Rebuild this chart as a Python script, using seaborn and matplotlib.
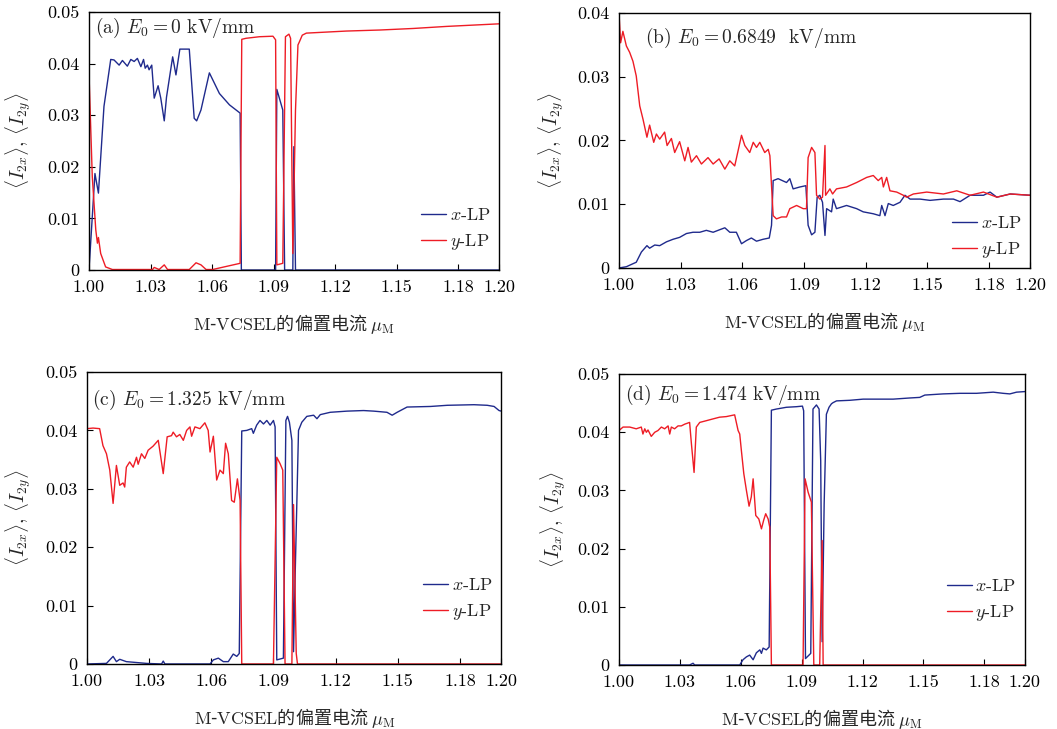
import matplotlib
matplotlib.use("Agg")
import matplotlib.pyplot as plt
import seaborn as sns

# ---- data ----
x_ticks = [1.00, 1.03, 1.06, 1.09, 1.12, 1.15, 1.18, 1.20]
x_tick_labels = ["1.00", "1.03", "1.06", "1.09", "1.12", "1.15", "1.18", "1.20"]

# (a) E0 = 0 kV/mm
a_x_lp_x = [1.0000, 1.0029, 1.0046, 1.0073, 1.0106, 1.0122, 1.0147, 1.0163, 1.0187, 1.0204,
            1.0220, 1.0236, 1.0253, 1.0266, 1.0274, 1.0285, 1.0293, 1.0306, 1.0318, 1.0337,
            1.0350, 1.0367, 1.0378, 1.0408, 1.0424, 1.0443, 1.0489, 1.0513, 1.0525, 1.0546,
            1.0587, 1.0636, 1.0685, 1.0737, 1.0743, 1.0910, 1.0916, 1.0945, 1.0954, 1.0994,
            1.0999, 1.1007, 1.2000]
a_x_lp_y = [0.0, 0.0187, 0.0149, 0.0317, 0.0408, 0.0407, 0.0397, 0.0406, 0.0395, 0.0408,
            0.0404, 0.0410, 0.0394, 0.0408, 0.0391, 0.0397, 0.0388, 0.0397, 0.0333, 0.0357,
            0.0333, 0.0289, 0.0335, 0.0413, 0.0378, 0.0428, 0.0428, 0.0294, 0.0289, 0.0310,
            0.0382, 0.0342, 0.0320, 0.0304, 0.0, 0.0, 0.0350, 0.0310, 0.0, 0.0,
            0.0239, 0.0, 0.0]
a_y_lp_x = [1.0000, 1.0016, 1.0033, 1.0041, 1.0046, 1.0057, 1.0081, 1.0114, 1.0310, 1.0318,
            1.0342, 1.0367, 1.0383, 1.0489, 1.0522, 1.0546, 1.0571, 1.0603, 1.0737, 1.0745,
            1.0766, 1.0831, 1.0897, 1.0910, 1.0916, 1.0945, 1.0958, 1.0975, 1.0983, 1.0994,
            1.1007, 1.1019, 1.1027, 1.1040, 1.1060, 1.1255, 1.1418, 1.1581, 1.1744, 1.2000]
a_y_lp_y = [0.0380, 0.0181, 0.0078, 0.0052, 0.0063, 0.0032, 0.0006, 0.0001, 0.0001, 0.0005,
            0.0001, 0.0010, 0.0001, 0.0001, 0.0014, 0.0010, 0.0001, 0.0001, 0.0013, 0.0447,
            0.0449, 0.0452, 0.0453, 0.0446, 0.0010, 0.0013, 0.0452, 0.0457, 0.0449, 0.0032,
            0.0310, 0.0436, 0.0443, 0.0455, 0.0459, 0.0463, 0.0465, 0.0468, 0.0472, 0.0477]

# (b) E0 = 0.6849 kV/mm
b_x_lp_x = [1.0000, 1.0036, 1.0084, 1.0109, 1.0136, 1.0149, 1.0174, 1.0198, 1.0231, 1.0263,
            1.0295, 1.0328, 1.0360, 1.0393, 1.0425, 1.0458, 1.0490, 1.0515, 1.0539, 1.0571,
            1.0596, 1.0620, 1.0644, 1.0669, 1.0701, 1.0731, 1.0742, 1.0750, 1.0774, 1.0815,
            1.0831, 1.0847, 1.0880, 1.0909, 1.0920, 1.0937, 1.0953, 1.0964, 1.0977, 1.0990,
            1.1002, 1.1010, 1.1034, 1.1042, 1.1058, 1.1107, 1.1156, 1.1188, 1.1237, 1.1269,
            1.1278, 1.1294, 1.1310, 1.1334, 1.1367, 1.1391, 1.1416, 1.1464, 1.1513, 1.1578,
            1.1627, 1.1659, 1.1708, 1.1773, 1.1805, 1.1838, 1.1903, 1.2000]
b_x_lp_y = [0.0, 0.0002, 0.0009, 0.0025, 0.0035, 0.0031, 0.0036, 0.0035, 0.0041, 0.0045,
            0.0048, 0.0054, 0.0056, 0.0056, 0.0059, 0.0056, 0.0060, 0.0063, 0.0056, 0.0056,
            0.0038, 0.0043, 0.0047, 0.0042, 0.0045, 0.0047, 0.0067, 0.0137, 0.0140, 0.0134,
            0.0140, 0.0124, 0.0127, 0.0129, 0.0067, 0.0052, 0.0056, 0.0111, 0.0114, 0.0103,
            0.0051, 0.0093, 0.0088, 0.0108, 0.0093, 0.0098, 0.0093, 0.0088, 0.0085, 0.0082,
            0.0098, 0.0082, 0.0101, 0.0098, 0.0103, 0.0114, 0.0108, 0.0108, 0.0106, 0.0108,
            0.0108, 0.0104, 0.0114, 0.0114, 0.0119, 0.0111, 0.0116, 0.0114]
b_y_lp_x = [1.0000, 1.0008, 1.0019, 1.0036, 1.0052, 1.0068, 1.0084, 1.0101, 1.0117, 1.0136,
            1.0149, 1.0169, 1.0182, 1.0198, 1.0222, 1.0234, 1.0255, 1.0271, 1.0295, 1.0320,
            1.0336, 1.0352, 1.0377, 1.0401, 1.0433, 1.0458, 1.0487, 1.0515, 1.0539, 1.0563,
            1.0596, 1.0612, 1.0636, 1.0653, 1.0669, 1.0685, 1.0709, 1.0726, 1.0734, 1.0750,
            1.0766, 1.0791, 1.0815, 1.0831, 1.0864, 1.0896, 1.0912, 1.0920, 1.0937, 1.0953,
            1.0961, 1.0977, 1.0990, 1.1002, 1.1005, 1.1026, 1.1039, 1.1058, 1.1107, 1.1156,
            1.1205, 1.1237, 1.1261, 1.1278, 1.1286, 1.1302, 1.1318, 1.1351, 1.1383, 1.1399,
            1.1432, 1.1497, 1.1578, 1.1643, 1.1708, 1.1773, 1.1838, 1.1903, 1.2000]
b_y_lp_y = [0.0400, 0.0353, 0.0371, 0.0348, 0.0338, 0.0324, 0.0301, 0.0254, 0.0233, 0.0205,
            0.0224, 0.0197, 0.0210, 0.0202, 0.0213, 0.0192, 0.0203, 0.0181, 0.0198, 0.0168,
            0.0189, 0.0166, 0.0176, 0.0163, 0.0173, 0.0163, 0.0171, 0.0155, 0.0168, 0.0160,
            0.0208, 0.0192, 0.0181, 0.0197, 0.0189, 0.0197, 0.0181, 0.0186, 0.0176, 0.0082,
            0.0077, 0.0080, 0.0080, 0.0093, 0.0098, 0.0093, 0.0093, 0.0173, 0.0189, 0.0181,
            0.0114, 0.0108, 0.0111, 0.0192, 0.0114, 0.0124, 0.0116, 0.0124, 0.0127, 0.0134,
            0.0142, 0.0145, 0.0137, 0.0142, 0.0127, 0.0142, 0.0121, 0.0119, 0.0114, 0.0111,
            0.0116, 0.0119, 0.0116, 0.0121, 0.0114, 0.0119, 0.0111, 0.0116, 0.0114]

# (c) E0 = 1.325 kV/mm
c_x_lp_x = [1.0000, 1.0094, 1.0126, 1.0142, 1.0158, 1.0190, 1.0287, 1.0360, 1.0368, 1.0376,
            1.0594, 1.0610, 1.0634, 1.0658, 1.0682, 1.0706, 1.0723, 1.0735, 1.0747, 1.0771,
            1.0795, 1.0803, 1.0819, 1.0835, 1.0852, 1.0868, 1.0884, 1.0900, 1.0908, 1.0916,
            1.0948, 1.0960, 1.0968, 1.0977, 1.0989, 1.0997, 1.1005, 1.1021, 1.1037, 1.1061,
            1.1094, 1.1110, 1.1126, 1.1174, 1.1255, 1.1335, 1.1384, 1.1448, 1.1473, 1.1497,
            1.1545, 1.1658, 1.1739, 1.1868, 1.1932, 1.1965, 1.1989, 1.2000]
c_x_lp_y = [0.0, 0.0001, 0.0013, 0.0004, 0.0008, 0.0004, 0.0001, 0.0, 0.0005, 0.0,
            0.0, 0.0007, 0.0010, 0.0004, 0.0004, 0.0017, 0.0013, 0.0018, 0.0399, 0.0400,
            0.0403, 0.0395, 0.0409, 0.0417, 0.0411, 0.0417, 0.0409, 0.0417, 0.0406, 0.0007,
            0.0010, 0.0417, 0.0424, 0.0414, 0.0383, 0.0021, 0.0155, 0.0400, 0.0414, 0.0424,
            0.0426, 0.0420, 0.0427, 0.0431, 0.0433, 0.0434, 0.0433, 0.0431, 0.0426, 0.0431,
            0.0440, 0.0441, 0.0443, 0.0444, 0.0443, 0.0441, 0.0434, 0.0433]
c_y_lp_x = [1.0000, 1.0029, 1.0061, 1.0077, 1.0094, 1.0110, 1.0126, 1.0142, 1.0158, 1.0174,
            1.0182, 1.0190, 1.0206, 1.0223, 1.0239, 1.0247, 1.0263, 1.0279, 1.0295, 1.0319,
            1.0344, 1.0368, 1.0387, 1.0408, 1.0416, 1.0432, 1.0448, 1.0465, 1.0481, 1.0497,
            1.0505, 1.0521, 1.0545, 1.0569, 1.0585, 1.0594, 1.0610, 1.0626, 1.0642, 1.0658,
            1.0669, 1.0682, 1.0698, 1.0711, 1.0726, 1.0739, 1.0747, 1.0900, 1.0916, 1.0932,
            1.0945, 1.0956, 1.0989, 1.0997, 1.1010, 1.1016, 1.2000]
c_y_lp_y = [0.0403, 0.0404, 0.0403, 0.0374, 0.0360, 0.0332, 0.0275, 0.0340, 0.0306, 0.0310,
            0.0303, 0.0337, 0.0346, 0.0337, 0.0354, 0.0342, 0.0360, 0.0352, 0.0366, 0.0373,
            0.0383, 0.0326, 0.0389, 0.0391, 0.0397, 0.0389, 0.0393, 0.0383, 0.0400, 0.0406,
            0.0390, 0.0406, 0.0403, 0.0413, 0.0400, 0.0363, 0.0390, 0.0315, 0.0332, 0.0326,
            0.0378, 0.0360, 0.0280, 0.0277, 0.0317, 0.0280, 0.0, 0.0, 0.0354, 0.0343,
            0.0332, 0.0, 0.0, 0.0273, 0.0018, 0.0, 0.0]

# (d) E0 = 1.474 kV/mm
d_x_lp_x = [1.0000, 1.0348, 1.0365, 1.0373, 1.0595, 1.0611, 1.0628, 1.0644, 1.0661, 1.0677,
            1.0694, 1.0702, 1.0710, 1.0726, 1.0740, 1.0751, 1.0776, 1.0825, 1.0874, 1.0904,
            1.0910, 1.0919, 1.0945, 1.0956, 1.0973, 1.0986, 1.0994, 1.1001, 1.1011, 1.1022,
            1.1035, 1.1047, 1.1055, 1.1072, 1.1137, 1.1203, 1.1269, 1.1351, 1.1433, 1.1482,
            1.1507, 1.1597, 1.1680, 1.1762, 1.1844, 1.1893, 1.1926, 1.1959, 1.2000]
d_x_lp_y = [0.0, 0.0, 0.0003, 0.0, 0.0, 0.0009, 0.0014, 0.0017, 0.0009, 0.0021,
            0.0026, 0.0020, 0.0029, 0.0026, 0.0031, 0.0438, 0.0440, 0.0443, 0.0444, 0.0445,
            0.0437, 0.0011, 0.0020, 0.0440, 0.0447, 0.0440, 0.0351, 0.0040, 0.0277, 0.0431,
            0.0443, 0.0449, 0.0451, 0.0454, 0.0455, 0.0457, 0.0457, 0.0457, 0.0459, 0.0460,
            0.0464, 0.0466, 0.0467, 0.0467, 0.0469, 0.0467, 0.0466, 0.0469, 0.0470]
d_y_lp_x = [1.0000, 1.0020, 1.0053, 1.0085, 1.0110, 1.0118, 1.0127, 1.0135, 1.0143, 1.0159,
            1.0176, 1.0192, 1.0209, 1.0225, 1.0242, 1.0250, 1.0258, 1.0274, 1.0291, 1.0307,
            1.0324, 1.0348, 1.0357, 1.0370, 1.0381, 1.0398, 1.0431, 1.0463, 1.0496, 1.0529,
            1.0570, 1.0587, 1.0595, 1.0603, 1.0615, 1.0628, 1.0641, 1.0652, 1.0661, 1.0674,
            1.0689, 1.0702, 1.0713, 1.0723, 1.0735, 1.0743, 1.0751, 1.0907, 1.0917, 1.0932,
            1.0948, 1.0960, 1.0989, 1.1001, 1.1006, 1.2000]
d_y_lp_y = [0.0403, 0.0409, 0.0409, 0.0406, 0.0409, 0.0397, 0.0406, 0.0400, 0.0404, 0.0393,
            0.0400, 0.0403, 0.0409, 0.0406, 0.0411, 0.0397, 0.0409, 0.0406, 0.0411, 0.0411,
            0.0414, 0.0417, 0.0380, 0.0331, 0.0409, 0.0417, 0.0420, 0.0423, 0.0426, 0.0427,
            0.0430, 0.0403, 0.0397, 0.0369, 0.0329, 0.0300, 0.0273, 0.0289, 0.0320, 0.0257,
            0.0251, 0.0234, 0.0249, 0.0260, 0.0251, 0.0237, 0.0, 0.0, 0.0320, 0.0297,
            0.0280, 0.0, 0.0, 0.0214, 0.0, 0.0]

panel_titles = [r"(a) $E_0=0$ kV/mm", r"(b) $E_0=0.6849$  kV/mm",
                r"(c) $E_0=1.325$ kV/mm", r"(d) $E_0=1.474$ kV/mm"]
y_max = [0.05, 0.04, 0.05, 0.05]

BLUE = "#1f2a8c"
RED = "#ee1c25"

sns.set_theme(style="white")
plt.rcParams["font.family"] = ["cmr10", "Noto Sans CJK SC"]
plt.rcParams["mathtext.fontset"] = "cm"
plt.rcParams["axes.unicode_minus"] = False

fig = plt.figure(figsize=(10.57, 7.29), dpi=100)
axes_rects = [
    [0.0842, 0.6296, 0.388, 0.354],
    [0.5856, 0.6324, 0.389, 0.350],
    [0.0823, 0.0892, 0.392, 0.4005],
    [0.5856, 0.0878, 0.384, 0.399],
]
series = [
    (a_x_lp_x, a_x_lp_y, a_y_lp_x, a_y_lp_y),
    (b_x_lp_x, b_x_lp_y, b_y_lp_x, b_y_lp_y),
    (c_x_lp_x, c_x_lp_y, c_y_lp_x, c_y_lp_y),
    (d_x_lp_x, d_x_lp_y, d_y_lp_x, d_y_lp_y),
]
# label placement per panel (axes fraction)
title_pos = [(0.015, 0.938), (0.063, 0.902), (0.012, 0.904), (0.015, 0.928)]
legend_anchor = [(1.01, 0.02), (1.01, -0.02), (1.01, 0.10), (1.01, 0.10)]
ylabel_x = [-0.136, -0.128, -0.130, -0.126]

# cmr10 hides CJK glyphs, so the x label uses the CJK family with CM math parts
xlabel_text = r"$\mathrm{M}$-$\mathrm{VCSEL}$的偏置电流 $\mu_{\mathrm{M}}$"

for i, rect in enumerate(axes_rects):
    ax = fig.add_axes(rect)
    xx, xy, yx, yy = series[i]
    sns.lineplot(x=xx, y=xy, ax=ax, color=BLUE, linewidth=1.0, label=r"$x$-LP",
                 estimator=None, sort=False)
    sns.lineplot(x=yx, y=yy, ax=ax, color=RED, linewidth=1.0, label=r"$y$-LP",
                 estimator=None, sort=False)

    ax.set_xlim(1.0, 1.2)
    ax.set_ylim(0, y_max[i])
    ax.set_xticks(x_ticks)
    ax.set_xticklabels(x_tick_labels)
    yt = [k * 0.01 for k in range(int(round(y_max[i] / 0.01)) + 1)]
    ax.set_yticks(yt)
    ax.set_yticklabels(["0"] + ["%.2f" % v for v in yt[1:]])
    ax.tick_params(direction="in", length=4, width=0.8, labelsize=13, colors="black",
                   top=False, right=False, bottom=True, left=True, pad=7)
    for sp in ax.spines.values():
        sp.set_color("black")
        sp.set_linewidth(1.0)

    ax.set_xlabel(xlabel_text, fontsize=13, labelpad=12, family=["Noto Sans CJK SC"])
    ax.set_ylabel(r"$\langle I_{2x}\rangle$, $\langle I_{2y}\rangle$", fontsize=14)
    ax.yaxis.set_label_coords(ylabel_x[i], 0.5)

    ax.text(title_pos[i][0], title_pos[i][1], panel_titles[i], transform=ax.transAxes,
            fontsize=14, ha="left", va="center")

    ax.legend(loc="lower right", bbox_to_anchor=legend_anchor[i], frameon=False,
              fontsize=13, handlelength=1.4, handletextpad=0.2, labelspacing=0.5,
              borderaxespad=0.3)

fig.savefig("out.png", dpi=100)
